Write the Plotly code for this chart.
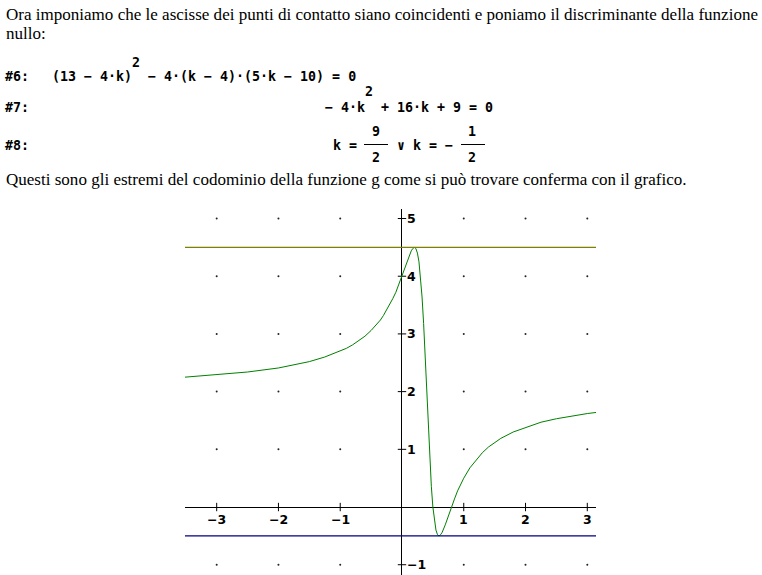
import plotly.graph_objects as go

W, H = 762, 575

# ---------------- data ----------------
curve_x = [-3.52, -3, -2.5, -2, -1.5, -1.25, -1, -0.9, -0.8, -0.7, -0.6, -0.5, -0.4, -0.35,
           -0.3, -0.25, -0.2, -0.15, -0.1, -0.05, 0, 0.025, 0.05, 0.075, 0.1, 0.125, 0.15,
           0.175, 0.2, 0.225, 0.25, 0.275, 0.3, 0.325, 0.35, 0.375, 0.4, 0.425, 0.45, 0.475,
           0.5, 0.525, 0.55, 0.575, 0.6, 0.625, 0.65, 0.7, 0.75, 0.8, 0.85, 0.9, 0.95, 1,
           1.1, 1.2, 1.3, 1.4, 1.6, 1.8, 2, 2.25, 2.5, 2.75, 3, 3.15]
curve_y = [2.25, 2.29, 2.34, 2.41, 2.52, 2.60, 2.70, 2.75, 2.81, 2.88, 2.96, 3.06, 3.18, 3.24,
           3.32, 3.41, 3.50, 3.61, 3.72, 3.86, 4.00, 4.08, 4.15, 4.23, 4.31, 4.38, 4.44,
           4.48, 4.50, 4.48, 4.40, 4.25, 4.00, 3.64, 3.18, 2.62, 2.00, 1.38, 0.82, 0.36,
           0.00, -0.25, -0.40, -0.48, -0.50, -0.48, -0.44, -0.31, -0.15, 0.00, 0.14, 0.28, 0.39, 0.50,
           0.68, 0.82, 0.94, 1.04, 1.19, 1.30, 1.38, 1.47, 1.53, 1.58, 1.62, 1.64]
levels = [4.5, -0.5]
level_colors = ["#808000", "#000080"]
x_ticks = [-3, -2, -1, 1, 2, 3]
y_ticks = [-1, 1, 2, 3, 4, 5]
x_range = [-3.513, 3.141]
y_range = [-1.178, 5.165]

# ---------------- helpers (page pixel -> paper) ----------------
def px(x):
    return x / W

def py(y):
    return 1 - y / H

def nb(s):
    return s.replace(" ", "\u00a0")

def lab(v):
    return str(v).replace("-", "\u2212")

SERIF = dict(family="Liberation Serif, Times New Roman, serif", size=17.05, color="black")
MONO = dict(family="DejaVu Sans Mono, monospace", size=13.3, color="black", weight="bold")
TICKF = dict(family="DejaVu Sans, sans-serif", size=12.5, color="black", weight="bold")

fig = go.Figure()

# grid dots
gx, gy = [], []
for yv in y_ticks:
    for xv in x_ticks:
        gx.append(xv)
        gy.append(yv)
fig.add_trace(go.Scatter(x=gx, y=gy, mode="markers",
                         marker=dict(size=2, color="#222222"), hoverinfo="skip"))

# axis tick marks
fig.add_trace(go.Scatter(x=[0] * len(y_ticks), y=y_ticks, mode="markers",
                         marker=dict(symbol="line-ew", size=6,
                                     line=dict(width=1, color="black")), hoverinfo="skip"))
fig.add_trace(go.Scatter(x=x_ticks, y=[0] * len(x_ticks), mode="markers",
                         marker=dict(symbol="line-ns", size=6,
                                     line=dict(width=1, color="black")), hoverinfo="skip"))

# curve
fig.add_trace(go.Scatter(x=curve_x, y=curve_y, mode="lines",
                         line=dict(color="#008000", width=1), hoverinfo="skip"))

shapes = []
for lv, col in zip(levels, level_colors):
    shapes.append(dict(type="line", xref="x domain", yref="y", x0=0, x1=1, y0=lv, y1=lv,
                       line=dict(color=col, width=1.2)))

annotations = []

def text(x, y, s, font, xanchor="left"):
    annotations.append(dict(xref="paper", yref="paper", x=px(x), y=py(y), text=s,
                            showarrow=False, xanchor=xanchor, yanchor="middle",
                            font=font, borderpad=0))

# paragraph text
text(5, 15, "Ora imponiamo che le ascisse dei punti di contatto siano coincidenti e poniamo il discriminante della funzione", SERIF)
text(5, 33.5, "nullo:", SERIF)
text(5, 179.5, "Questi sono gli estremi del codominio della funzione g come si può trovare conferma con il grafico.", SERIF)

# formula #6
text(4, 76, "#6:", MONO)
text(51, 76, nb("(13 − 4·k)"), MONO)
text(131, 62, "2", MONO)
text(147, 76, nb("− 4·(k − 4)·(5·k − 10) = 0"), MONO)

# formula #7
text(4, 107, "#7:", MONO)
text(324, 107, nb("− 4·k"), MONO)
text(364, 91, "2", MONO)
text(380, 107, nb("+ 16·k + 9 = 0"), MONO)

# formula #8
text(4, 146, "#8:", MONO)
text(332, 146, nb("k ="), MONO)
text(396, 146, nb("∨ k = −"), MONO)
text(376, 132, "9", MONO, "center")
text(376, 157.5, "2", MONO, "center")
text(472, 132, "1", MONO, "center")
text(472, 157.5, "2", MONO, "center")
for x0, x1 in [(364, 388), (461, 485)]:
    shapes.append(dict(type="line", xref="paper", yref="paper", x0=px(x0), x1=px(x1),
                       y0=py(144.5), y1=py(144.5), line=dict(color="black", width=1)))

# tick labels
for v in y_ticks:
    annotations.append(dict(xref="x", yref="y", x=0, y=v, text=lab(v), showarrow=False,
                            xanchor="left", yanchor="middle", xshift=4, font=TICKF, borderpad=0))
for v in x_ticks:
    annotations.append(dict(xref="x", yref="y", x=v, y=0, text=lab(v), showarrow=False,
                            xanchor="center", yanchor="middle", yshift=-12.5, font=TICKF, borderpad=0))

fig.update_layout(
    width=W, height=H, autosize=False,
    margin=dict(l=0, r=0, t=0, b=0),
    paper_bgcolor="white", plot_bgcolor="white",
    showlegend=False,
    xaxis=dict(domain=[px(185), px(596)], range=x_range, showgrid=False, showticklabels=False,
               ticks="", zeroline=True, zerolinecolor="black", zerolinewidth=1, showline=False),
    yaxis=dict(domain=[0, py(209)], range=y_range, showgrid=False, showticklabels=False,
               ticks="", zeroline=True, zerolinecolor="black", zerolinewidth=1, showline=False),
    shapes=shapes,
    annotations=annotations,
)

fig.write_html("out.html", config={"displayModeBar": False},
               post_script="document.body.style.margin='0';")
